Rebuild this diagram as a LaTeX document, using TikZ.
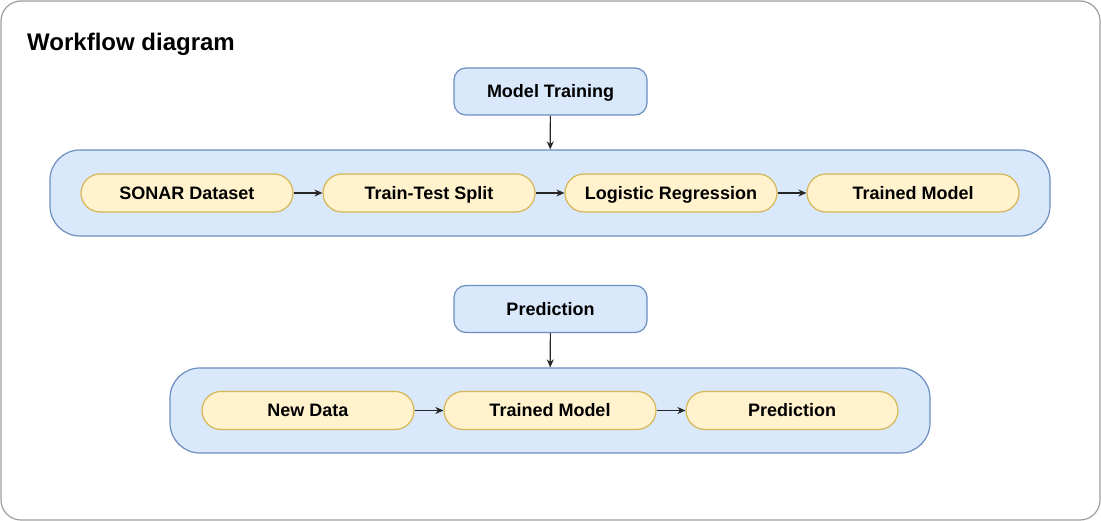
\documentclass[tikz,border=0pt]{standalone}
\usepackage{fontspec}
\setmainfont{Liberation Sans}
\usepackage{tikz}
\usetikzlibrary{arrows.meta}

\definecolor{boxblue}{HTML}{DAE8FC}
\definecolor{lineblue}{HTML}{6C8EBF}
\definecolor{boxyellow}{HTML}{FFF2CC}
\definecolor{lineyellow}{HTML}{D6B656}
\definecolor{framegray}{HTML}{9E9E9E}

\tikzset{
  head/.style={draw=lineblue, fill=boxblue, line width=1.2pt, rounded corners=12pt,
    minimum width=193pt, minimum height=47pt, text height=13pt, text depth=0pt,
    font=\fontsize{18}{20}\selectfont\bfseries},
  group/.style={draw=lineblue, fill=boxblue, line width=1.2pt, rounded corners=30pt},
  stage/.style={draw=lineyellow, fill=boxyellow, line width=1.2pt, rounded corners=19pt,
    minimum width=212pt, minimum height=38pt, text height=13pt, text depth=0pt,
    font=\fontsize{18}{20}\selectfont\bfseries},
  flow/.style={-{Stealth[length=8pt,width=7pt]}, line width=1.2pt, black!85}
}

\begin{document}
\begin{tikzpicture}[x=1pt, y=-1pt]
        \useasboundingbox (0,0) rectangle (1101,521);
        \draw[framegray, line width=1.2pt, rounded corners=20pt, fill=white] (1,1) rectangle (1100,520);
        \node[anchor=west, inner sep=0pt, font=\fontsize{24}{28}\selectfont\bfseries] (title) at (27,44) {Workflow diagram};

        % training
        \node[head] (training) at (550.5,91.5) {Model Training};
        \node[group, minimum width=1000pt, minimum height=86pt] (trainrow) at (550,193) {};
        \node[stage] (sonar) at (187,193) {SONAR Dataset};
        \node[stage] (split) at (429,193) {Train-Test Split};
        \node[stage] (logreg) at (671,193) {Logistic Regression};
        \node[stage] (model) at (913,193) {Trained Model};
        \draw[flow] (training) -- (trainrow);
        \draw[flow] (sonar) -- (split);
        \draw[flow] (split) -- (logreg);
        \draw[flow] (logreg) -- (model);

        % prediction
        \node[head] (predict) at (550.5,309) {Prediction};
        \node[group, minimum width=760pt, minimum height=85pt] (predrow) at (550,410.5) {};
        \node[stage] (newdata) at (308,410.5) {New Data};
        \node[stage] (usemodel) at (550,410.5) {Trained Model};
        \node[stage] (result) at (792,410.5) {Prediction};
        \draw[flow] (predict) -- (predrow);
        \draw[flow] (newdata) -- (usemodel);
        \draw[flow] (usemodel) -- (result);
      \end{tikzpicture}
\end{document}
